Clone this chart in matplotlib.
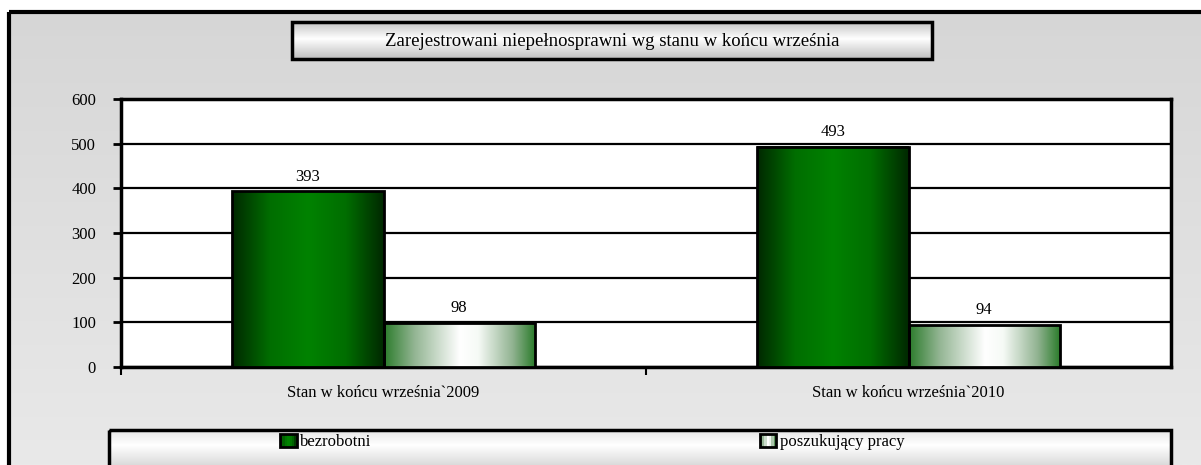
import numpy as np
import matplotlib
matplotlib.use('Agg')
import matplotlib.pyplot as plt
from matplotlib.colors import LinearSegmentedColormap
from matplotlib.patches import Rectangle
from matplotlib.legend_handler import HandlerBase

# dane
categories = ['Stan w końcu września`2009', 'Stan w końcu września`2010']
series_names = ['bezrobotni', 'poszukujący pracy']
bezrobotni = [393, 493]
poszukujacy = [98, 94]
y_ticks = [0, 100, 200, 300, 400, 500, 600]
title = 'Zarejestrowani niepełnosprawni wg stanu w końcu września'

W, H = 1201, 465
plt.rcParams['font.family'] = ['Liberation Serif', 'DejaVu Serif']

# gradienty
cm_a = LinearSegmentedColormap.from_list('a', [(0, '#002800'), (0.25, '#006e00'), (0.5, '#008200'),
                                               (0.75, '#006e00'), (1, '#002800')])
cm_b = LinearSegmentedColormap.from_list('b', [(0, '#2c7c2c'), (0.2, '#93b593'), (0.5, '#ffffff'),
                                               (0.62, '#f6faf6'), (0.85, '#90b290'), (1, '#287a28')])
cm_bg = LinearSegmentedColormap.from_list('bg', ['#d6d6d6', '#e9e9e9'])
cm_box = LinearSegmentedColormap.from_list('box', [(0, '#c4c4c4'), (0.45, '#ffffff'), (1, '#bdbdbd')])
cm_leg = LinearSegmentedColormap.from_list('leg', [(0, '#e6e6e6'), (0.3, '#ffffff'), (1, '#c0c0c0')])
vgrad = np.linspace(0, 1, 256).reshape(-1, 1)
hgrad = np.linspace(0, 1, 256).reshape(1, -1)

fig = plt.figure(figsize=(W / 100, H / 100), dpi=100)

# tło w pikselach
bg = fig.add_axes([0, 0, 1, 1], zorder=-10)
bg.axis('off')
bg.imshow(vgrad, cmap=cm_bg, extent=(9, W, H, 12), aspect='auto')
bg.add_patch(Rectangle((9, 12), W + 20, H + 20, fill=False, ec='black', lw=3))

# ramka tytułu
bg.imshow(vgrad, cmap=cm_box, extent=(292, 932, 59, 22), aspect='auto')
bg.add_patch(Rectangle((292, 22), 640, 37, fill=False, ec='black', lw=2.5))
bg.text(612, 41, title, ha='center', va='center', fontsize=13.5)

# ramka legendy
bg.imshow(vgrad, cmap=cm_leg, extent=(109, 1171, H + 15, 430), aspect='auto')
bg.add_patch(Rectangle((109, 430), 1062, 60, fill=False, ec='black', lw=2.5))
bg.set_xlim(0, W)
bg.set_ylim(H, 0)

# wykres
ax = fig.add_axes([121 / W, 1 - 367 / H, 1050 / W, 268 / H])
ax.set_facecolor('white')
x = np.arange(len(categories))
width = 0.288

bars_a = ax.bar(x - width / 2, bezrobotni, width, facecolor='none', edgecolor='black', lw=2, zorder=4)
bars_b = ax.bar(x + width / 2, poszukujacy, width, facecolor='none', edgecolor='black', lw=2, zorder=4)
for bars, cm in [(bars_a, cm_a), (bars_b, cm_b)]:
    for r in bars:
        ax.imshow(hgrad, cmap=cm, aspect='auto', zorder=3,
                  extent=(r.get_x(), r.get_x() + r.get_width(), 0, r.get_height()))
        ax.annotate(str(int(r.get_height())), (r.get_x() + r.get_width() / 2, r.get_height()),
                    xytext=(0, 5), textcoords='offset points', ha='center', va='bottom', fontsize=12)

ax.set_xlim(-0.5, 1.5)
ax.set_ylim(0, 600)
ax.set_axisbelow(True)
ax.yaxis.grid(True, color='black', lw=1.6)
for s in ax.spines.values():
    s.set_linewidth(2.5)

ax.set_yticks(y_ticks)
ax.tick_params(axis='y', length=6, width=2, pad=12, labelsize=12)
ax.set_xticks(x)
ax.set_xticklabels(categories)
ax.set_xticks([-0.5, 0.5], minor=True)
ax.tick_params(axis='x', which='major', length=0, pad=13, labelsize=12)
ax.tick_params(axis='x', which='minor', length=6, width=1.5)


# legenda z gradientem w znaczniku
class GradHandler(HandlerBase):
    def __init__(self, cmap):
        super().__init__()
        self.cmap = cmap

    def create_artists(self, legend, orig_handle, xdescent, ydescent, width, height, fontsize, trans):
        arts = []
        n = 7
        for i in range(n):
            arts.append(Rectangle((-xdescent + width * i / n, -ydescent), width / n, height,
                                  fc=self.cmap((i + 0.5) / n), ec='none', transform=trans))
        arts.append(Rectangle((-xdescent, -ydescent), width, height, fill=False,
                              ec='black', lw=2, transform=trans))
        return arts


h_a = Rectangle((0, 0), 1, 1)
h_b = Rectangle((0, 0), 1, 1)
fig.legend([h_a, h_b], series_names, handler_map={h_a: GradHandler(cm_a), h_b: GradHandler(cm_b)},
           loc='center left', bbox_to_anchor=(280 / W, 1 - 442 / H), ncol=2, frameon=False,
           borderpad=0, borderaxespad=0, handlelength=1.0, handleheight=0.8, handletextpad=0.2,
           columnspacing=23.3, fontsize=12)

fig.savefig('out.png', dpi=100)
